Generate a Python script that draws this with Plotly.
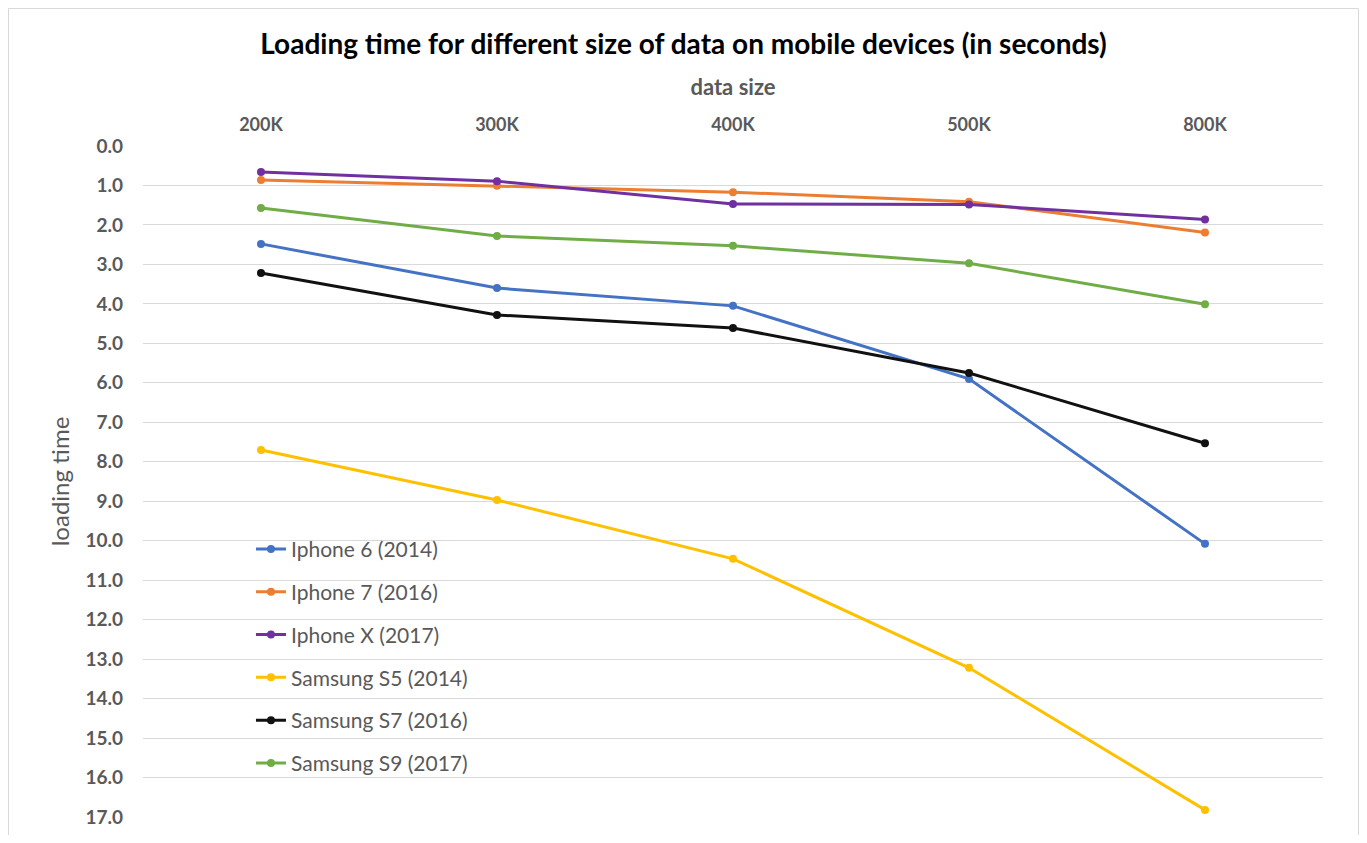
import plotly.graph_objects as go

categories = ["200K", "300K", "400K", "500K", "800K"]
iphone6 = [2.48, 3.60, 4.05, 5.90, 10.08]
iphone7 = [0.86, 1.01, 1.17, 1.41, 2.19]
iphoneX = [0.66, 0.89, 1.47, 1.48, 1.86]
samsungS5 = [7.70, 8.97, 10.46, 13.22, 16.82]
samsungS7 = [3.22, 4.28, 4.61, 5.75, 7.53]
samsungS9 = [1.57, 2.28, 2.53, 2.97, 4.01]

series_names = ["Iphone 6 (2014)", "Iphone 7 (2016)", "Iphone X (2017)",
                "Samsung S5 (2014)", "Samsung S7 (2016)", "Samsung S9 (2017)"]
series_values = [iphone6, iphone7, iphoneX, samsungS5, samsungS7, samsungS9]
colors = ["#4472C4", "#ED7D31", "#7030A0", "#FFC000", "#111111", "#70AD47"]

FONT = "Lato"
GRAY = "#595959"

W, H = 1351, 827
L, R, T, B = 135, 36, 138, 18
PW, PH = W - L - R, H - T - B

fig = go.Figure()
for i, (name, vals, c) in enumerate(zip(series_names, series_values, colors)):
    fig.add_trace(go.Scatter(
        x=categories, y=vals, name=name, mode="lines+markers",
        line=dict(color=c, width=3), marker=dict(color=c, size=8),
        legendgroup=f"g{i}",
    ))

fig.update_layout(
    width=W, height=H,
    paper_bgcolor="white", plot_bgcolor="white",
    margin=dict(l=L, r=R, t=T, b=B, autoexpand=False),
    title=dict(text="<b>Loading time for different size of data on mobile devices (in seconds)</b>",
               x=0.5, xanchor="center", y=1 - 36 / H, yanchor="middle",
               font=dict(family=FONT, size=28, color="black")),
    font=dict(family=FONT, color=GRAY),
    legend=dict(x=0.0915, y=0.4295, xanchor="left", yanchor="top",
                bgcolor="rgba(0,0,0,0)", font=dict(family=FONT, size=21, color=GRAY),
                tracegroupgap=12.5, itemwidth=30),
    xaxis=dict(type="category", side="top", range=[-0.5, 4.5], automargin=False,
               showgrid=False, showline=False, zeroline=False,
               tickfont=dict(family=FONT, size=18, color=GRAY, weight="bold"),
               ticks="", ticklabelstandoff=10,
               title=dict(text="<b>data size</b>", standoff=11,
                          font=dict(family=FONT, size=22, color=GRAY))),
    yaxis=dict(range=[17, 0], dtick=1, tickformat=".1f", automargin=False,
               showgrid=True, gridcolor="#D9D9D9", gridwidth=1.3,
               showline=False, zeroline=False, ticks="",
               tickfont=dict(family=FONT, size=19, color=GRAY, weight="bold"),
               ticklabelstandoff=19,
               title=dict(text="loading time", standoff=9,
                          font=dict(family=FONT, size=24, color=GRAY))),
)

# chart border (left, top, right edges) along the figure edges
x0 = (-L + 0.5) / PW
x1 = (W - L - 0.5) / PW
ytop = 1 + (T - 0.5) / PH
ybot = -(B + 40) / PH
fig.add_shape(type="path", xref="paper", yref="paper", layer="below",
              path=f"M {x0} {ybot} L {x0} {ytop} L {x1} {ytop} L {x1} {ybot}",
              line=dict(color="#D9D9D9", width=1))

fig.write_html("out.html")
